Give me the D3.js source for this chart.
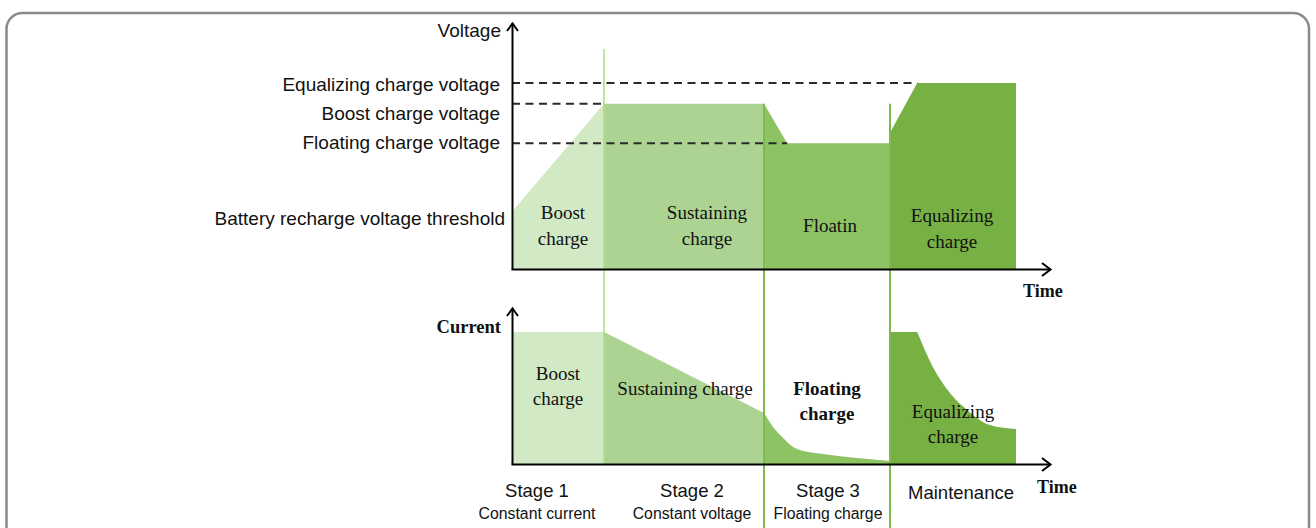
<!DOCTYPE html>
<html>
<head>
<meta charset="utf-8">
<script src="https://cdn.jsdelivr.net/npm/d3@7/dist/d3.min.js"></script>
<style>
  html, body { margin: 0; padding: 0; background: #ffffff; }
  svg { display: block; }
</style>
</head>
<body>
<svg id="chart" width="1316" height="528"></svg>
<script>
// ---- Charging stages (time in hours) ----
const stageBounds = [0, 1.825, 5.0, 7.5, 10];
const stageColors = ["#d2e9c5", "#add392", "#8ec363", "#77b043"];
const stageNames = ["Stage 1", "Stage 2", "Stage 3", "Maintenance"];
const stageModes = ["Constant current", "Constant voltage", "Floating charge", ""];

// ---- Voltage reference levels (V) ----
const levelNames = ["Equalizing charge voltage", "Boost charge voltage", "Floating charge voltage", "Battery recharge voltage threshold"];
const levelValues = [14.8, 14.3, 13.35, 11.7];

// ---- Voltage profile per stage: [time, volts] ----
const voltageStage1 = [[0, 11.7], [1.825, 14.3]];
const voltageStage2 = [[1.825, 14.3], [5.0, 14.3]];
const voltageStage3 = [[5.0, 14.3], [5.46, 13.35], [7.5, 13.35]];
const voltageStage4 = [[7.5, 13.35], [7.5, 13.6], [8.04, 14.8], [10, 14.8]];

// ---- Current profile per stage: [time, amps] ----
const currentStage1 = [[0, 10], [1.825, 10]];
const currentStage2 = [[1.825, 10], [5.0, 3.86]];
const currentStage3 = [[5.0, 3.86], [5.18, 2.8], [5.38, 1.97], [5.58, 1.29], [5.71, 1.06], [6.17, 0.76], [6.85, 0.45], [7.5, 0.23]];
const currentStage4Hold = [[7.5, 10], [8.04, 10]];
const currentStage4Decay = [[8.04, 10], [8.35, 7.35], [8.69, 5.38], [9.03, 4.09], [9.48, 2.95], [10, 2.65]];

// ---- Labels inside the areas ----
const voltageAreaLabels = [["Boost", "charge"], ["Sustaining", "charge"], ["Floatin"], ["Equalizing", "charge"]];
const currentAreaLabels = [["Boost", "charge"], ["Sustaining charge"], ["Floating", "charge"], ["Equalizing", "charge"]];

const SANS = "'Liberation Sans', Arial, sans-serif";
const SERIF = "'Liberation Serif', 'Times New Roman', serif";
const INK = "#111111";

const svg = d3.select("#chart");

// Card frame
svg.append("rect")
  .attr("x", 6.5).attr("y", 13).attr("width", 1302.5).attr("height", 540)
  .attr("rx", 16).attr("ry", 16)
  .attr("fill", "none").attr("stroke", "#8a8a8a").attr("stroke-width", 2.5);

// Scales
const x = d3.scaleLinear().domain([0, 10]).range([512, 1016]);
const yV = d3.scaleLinear().domain([10.3, 14.8]).range([270, 83]);
const yI = d3.scaleLinear().domain([0, 10]).range([464, 332]);

const axisEndX = 1051;

const voltageStages = [voltageStage1, voltageStage2, voltageStage3, voltageStage4];

// Voltage areas
const areaV = d3.area().x(d => x(d[0])).y0(yV(10.3)).y1(d => yV(d[1])).curve(d3.curveLinear);
svg.append("g").selectAll("path").data(voltageStages).join("path")
  .attr("d", d => areaV(d))
  .attr("fill", (d, i) => stageColors[i]);

// Current areas: straight runs stay linear, decays are smoothed
const areaIlin = d3.area().x(d => x(d[0])).y0(yI(0)).y1(d => yI(d[1])).curve(d3.curveLinear);
const areaIcurve = d3.area().x(d => x(d[0])).y0(yI(0)).y1(d => yI(d[1])).curve(d3.curveMonotoneX);
const lineIlin = d3.line().x(d => x(d[0])).y(d => yI(d[1])).curve(d3.curveLinear);
const lineIcurve = d3.line().x(d => x(d[0])).y(d => yI(d[1])).curve(d3.curveMonotoneX);

// Maintenance stage: flat hold followed by a smooth decay, as a single outline
function holdThenDecay(hold, decay) {
  const first = hold[0], last = decay[decay.length - 1];
  const top = lineIlin(hold);
  const tail = lineIcurve(decay).replace(/^M[^A-Za-z]*/, "");
  return `M${x(first[0])},${yI(0)}L${top.slice(1)}${tail ? "L" + x(decay[0][0]) + "," + yI(decay[0][1]) + tail : ""}L${x(last[0])},${yI(0)}Z`;
}

const currentPaths = [
  areaIlin(currentStage1),
  areaIlin(currentStage2),
  areaIcurve(currentStage3),
  holdThenDecay(currentStage4Hold, currentStage4Decay)
];
svg.append("g").selectAll("path").data(currentPaths).join("path")
  .attr("d", d => d)
  .attr("fill", (d, i) => stageColors[i]);

// Dashed reference lines (from the axis to where the profile meets each level)
const dashEnds = [8.04, 1.825, 5.46];
svg.append("g").selectAll("line").data(levelValues.slice(0, 3)).join("line")
  .attr("x1", x(0)).attr("x2", (d, i) => x(dashEnds[i]))
  .attr("y1", d => yV(d)).attr("y2", d => yV(d))
  .attr("stroke", "#2a2a2a").attr("stroke-width", 2)
  .attr("stroke-dasharray", "8,5.5");

// Level labels (left of the voltage axis)
const levelNudge = [1, 10, -1, 7];
const levelRight = [500, 500, 500, 505];
svg.append("g").selectAll("text").data(levelNames).join("text")
  .attr("x", (d, i) => levelRight[i])
  .attr("y", (d, i) => yV(levelValues[i]) + levelNudge[i])
  .attr("dy", "0.35em")
  .attr("text-anchor", "end")
  .attr("font-family", SANS).attr("font-size", 19).attr("fill", INK)
  .text(d => d);

// Stage dividers
const dividers = [
  { t: stageBounds[1], top: 49, bottom: 462, color: "#b2dc88", w: 1.6 },
  { t: stageBounds[2], top: yV(14.3), bottom: 528, color: "#7fba4f", w: 2 },
  { t: stageBounds[3], top: yV(14.3), bottom: 528, color: "#7fba4f", w: 2 }
];
svg.append("g").selectAll("line").data(dividers).join("line")
  .attr("x1", d => x(d.t)).attr("x2", d => x(d.t))
  .attr("y1", d => d.top).attr("y2", d => d.bottom)
  .attr("stroke", d => d.color).attr("stroke-width", d => d.w);

// Axes with open arrowheads
function drawAxes(yBase, yTop) {
  const g = svg.append("g").attr("fill", "none").attr("stroke", "#000").attr("stroke-width", 2);
  const x0 = x(0) + 0.5;
  g.append("path").attr("d", `M${x0},${yBase}V${yTop}`);
  g.append("path").attr("d", `M${x0 - 5.5},${yTop + 8}L${x0},${yTop + 0.5}L${x0 + 5.5},${yTop + 8}`);
  g.append("path").attr("d", `M${x0 - 1},${yBase}H${axisEndX}`);
  g.append("path").attr("d", `M${axisEndX - 9},${yBase - 6.5}L${axisEndX - 0.5},${yBase}L${axisEndX - 9},${yBase + 6.5}`);
}
drawAxes(yV(10.3) - 0.5, 23);
drawAxes(yI(0) + 0.5, 308);

// Axis titles
svg.append("text").attr("x", 501).attr("y", 30).attr("dy", "0.35em")
  .attr("text-anchor", "end").attr("font-family", SANS).attr("font-size", 19).attr("fill", INK)
  .text("Voltage");
svg.append("text").attr("x", 501).attr("y", 327).attr("dy", "0.35em")
  .attr("text-anchor", "end").attr("font-family", SERIF).attr("font-weight", "bold")
  .attr("font-size", 18.5).attr("fill", INK).text("Current");
svg.append("text").attr("x", 1023).attr("y", 297)
  .attr("font-family", SERIF).attr("font-weight", "bold").attr("font-size", 18).attr("fill", INK)
  .text("Time");
svg.append("text").attr("x", 1037).attr("y", 493)
  .attr("font-family", SERIF).attr("font-weight", "bold").attr("font-size", 18).attr("fill", INK)
  .text("Time");

// Area labels
function areaLabels(labels, centers, firstY, lineGap, boldIdx) {
  const g = svg.append("g");
  labels.forEach((lines, i) => {
    const t = g.append("text")
      .attr("text-anchor", "middle")
      .attr("font-family", SERIF).attr("font-size", 19).attr("fill", INK)
      .attr("font-weight", i === boldIdx ? "bold" : "normal");
    lines.forEach((s, k) => {
      t.append("tspan").attr("x", centers[i]).attr("y", firstY[i] + k * lineGap).attr("dy", "0.35em").text(s);
    });
  });
}
const mid = stageBounds.slice(0, 4).map((b, i) => x((b + stageBounds[i + 1]) / 2));
areaLabels(voltageAreaLabels, [mid[0] + 5, mid[1] + 23, mid[2] + 3, mid[3] - 1], [212, 212, 225, 215], 26, -1);
areaLabels(currentAreaLabels, [mid[0], mid[1] + 1, mid[2], mid[3]], [373, 388, 388, 411], 25.5, 2);

// Stage captions under the current chart
const stageNudge = [-21, 8, 1, 8];
const g = svg.append("g").attr("font-family", SANS).attr("fill", INK).attr("text-anchor", "middle");
g.selectAll("text.stage").data(stageNames).join("text").attr("class", "stage")
  .attr("x", (d, i) => mid[i] + stageNudge[i])
  .attr("y", (d, i) => i === 3 ? 499 : 497)
  .attr("font-size", 18.5)
  .text(d => d);
g.selectAll("text.mode").data(stageModes).join("text").attr("class", "mode")
  .attr("x", (d, i) => mid[i] + stageNudge[i])
  .attr("y", 519)
  .attr("font-size", 15.8)
  .text(d => d);
</script>
</body>
</html>
